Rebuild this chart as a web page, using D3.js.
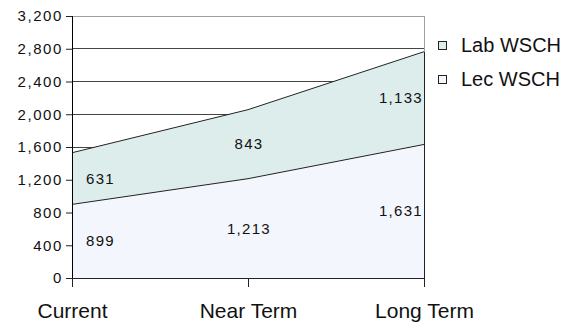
<!DOCTYPE html>
<html><head><meta charset="utf-8">
<script src="https://cdn.jsdelivr.net/npm/d3@7"></script>
<style>body{margin:0;background:#fff}svg{display:block}text{font-family:"Liberation Sans",Arial,sans-serif;fill:#111}</style>
</head><body><svg id="c" width="567" height="322"></svg>
<script>
const categories = ["Current", "Near Term", "Long Term"];
const lecWSCH = [899, 1213, 1631];
const labWSCH = [631, 843, 1133];
const yTicks = [0, 400, 800, 1200, 1600, 2000, 2400, 2800, 3200];
const seriesNames = ["Lab WSCH", "Lec WSCH"];
const seriesColors = ["#DDEDEC", "#F3F7FD"];

const svg = d3.select("#c");
const L = 72, R = 424, T = 16, B = 278;
const x = d3.scalePoint().domain(categories).range([L, R]);
const y = d3.scaleLinear().domain([0, 3200]).range([B, T]);

const rows = categories.map((c, i) => ({cat: c, lec: lecWSCH[i], lab: labWSCH[i]}));
const stack = d3.stack().keys(["lec", "lab"])(rows);

// gridlines
svg.append("g").selectAll("line").data(yTicks.filter(v => v > 0)).join("line")
  .attr("x1", L).attr("x2", R).attr("y1", d => y(d)).attr("y2", d => y(d))
  .attr("stroke", d => d === 3200 ? "#a0a0a0" : "#444").attr("stroke-width", 1)
  .attr("shape-rendering", "crispEdges");
svg.append("line").attr("x1", R).attr("x2", R).attr("y1", T).attr("y2", B)
  .attr("stroke", "#a0a0a0").attr("shape-rendering", "crispEdges");

const area = d3.area().x(d => x(d.data.cat)).y0(d => y(d[0])).y1(d => y(d[1]));
const line = d3.line().x(d => x(d.data.cat)).y(d => y(d[1]));
const fills = {lec: seriesColors[1], lab: seriesColors[0]};
svg.append("g").selectAll("path").data(stack).join("path")
  .attr("d", area).attr("fill", d => fills[d.key]);
svg.append("g").selectAll("path").data(stack).join("path")
  .attr("d", line).attr("fill", "none").attr("stroke", "#222").attr("stroke-width", 1);
svg.append("line").attr("x1", R).attr("x2", R).attr("y1", y(lecWSCH[2] + labWSCH[2])).attr("y2", B)
  .attr("stroke", "#222").attr("shape-rendering", "crispEdges");

// y axis
const ya = svg.append("g").attr("transform", `translate(${L},0)`)
  .call(d3.axisLeft(y).tickValues(yTicks).tickSize(6).tickPadding(3).tickFormat(d3.format(",")));
ya.select(".domain").remove();
ya.selectAll(".tick line").attr("stroke", "#222");
ya.selectAll("text").style("font-size", "15px").style("letter-spacing", "1.6px").attr("fill", "#111");
svg.append("line").attr("x1", L).attr("x2", L).attr("y1", T).attr("y2", B + 9)
  .attr("stroke", "#000").attr("shape-rendering", "crispEdges");

// x axis
const xa = svg.append("g").attr("transform", `translate(0,${B})`)
  .call(d3.axisBottom(x).tickSize(9).tickPadding(16));
xa.select(".domain").attr("stroke", "#222").attr("d", `M${L},0.5H${R}`);
xa.selectAll(".tick line").attr("stroke", "#222");
xa.selectAll("text").style("font-size", "21px").attr("fill", "#111").attr("dy", "0.71em");

// data labels
stack.forEach(s => {
  svg.append("g").selectAll("text").data(s).join("text")
    .attr("x", (d, i) => i === 0 ? x(d.data.cat) + 14 : i === 2 ? x(d.data.cat) - 1 : x(d.data.cat) + 1)
    .attr("y", d => y((d[0] + d[1]) / 2))
    .attr("dy", "0.35em")
    .attr("text-anchor", (d, i) => i === 0 ? "start" : i === 2 ? "end" : "middle")
    .style("font-size", "15px").style("letter-spacing", "1.3px")
    .text(d => d3.format(",")(d.data[s.key]));
});

// legend
const lg = svg.append("g").selectAll("g").data(seriesNames).join("g")
  .attr("transform", (d, i) => `translate(438,${41 + i * 34})`);
lg.append("rect").attr("x", 0.5).attr("y", 0.5).attr("width", 8).attr("height", 8)
  .attr("fill", (d, i) => seriesColors[i]).attr("stroke", "#222");
lg.append("text").attr("x", 23).attr("y", 10.5).style("font-size", "20px").text(d => d);
</script></body></html>
